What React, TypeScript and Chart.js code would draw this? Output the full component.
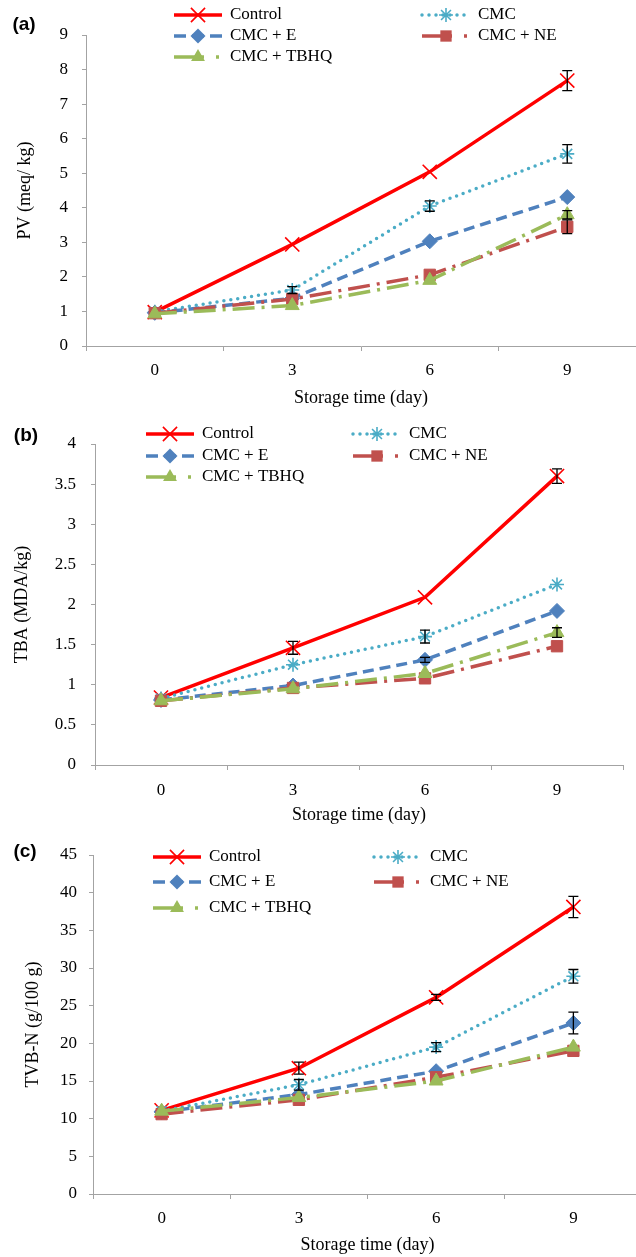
import React, { useEffect, useRef } from 'react';
import { Chart, registerables } from 'chart.js';

Chart.register(...registerables);

// ---------- data ----------
const days = ['0', '3', '6', '9'];
const seriesNames = ['Control', 'CMC', 'CMC + E', 'CMC + NE', 'CMC + TBHQ'];

// (a) PV (meq/ kg)
const pvControl = [0.98, 2.94, 5.04, 7.68];
const pvCMC = [0.99, 1.62, 4.05, 5.56];
const pvE = [0.96, 1.38, 3.03, 4.31];
const pvNE = [0.95, 1.36, 2.06, 3.45];
const pvTBHQ = [0.93, 1.17, 1.9, 3.8];
const pvControlErr = [0, 0, 0, 0.29];
const pvCMCErr = [0, 0.1, 0.15, 0.27];
const pvEErr = [0, 0, 0, 0];
const pvNEErr = [0, 0, 0, 0.2];
const pvTBHQErr = [0, 0, 0, 0.12];

// (b) TBA (MDA/kg)
const tbaControl = [0.84, 1.46, 2.09, 3.6];
const tbaCMC = [0.83, 1.25, 1.6, 2.25];
const tbaE = [0.81, 0.99, 1.31, 1.92];
const tbaNE = [0.8, 0.96, 1.08, 1.48];
const tbaTBHQ = [0.8, 0.95, 1.14, 1.65];
const tbaControlErr = [0, 0.08, 0, 0.09];
const tbaCMCErr = [0, 0, 0.08, 0];
const tbaEErr = [0, 0, 0.03, 0];
const tbaNEErr = [0, 0, 0, 0];
const tbaTBHQErr = [0, 0, 0, 0.06];

// (c) TVB-N (g/100 g)
const tvbControl = [11.1, 16.7, 26.1, 38.1];
const tvbCMC = [11.0, 14.5, 19.5, 28.9];
const tvbE = [10.9, 13.2, 16.3, 22.7];
const tvbNE = [10.6, 12.5, 15.5, 19.0];
const tvbTBHQ = [11.0, 12.8, 15.0, 19.5];
const tvbControlErr = [0, 0.8, 0.4, 1.4];
const tvbCMCErr = [0, 0.7, 0.6, 0.9];
const tvbEErr = [0, 0, 0, 1.45];
const tvbNEErr = [0, 0, 0, 0];
const tvbTBHQErr = [0, 0, 0, 0];

const pvTicks = { min: 0, max: 9, step: 1 };
const tbaTicks = { min: 0, max: 4, step: 0.5 };
const tvbTicks = { min: 0, max: 45, step: 5 };

// ---------- styles ----------
const SERIF = "'Liberation Serif', 'Times New Roman', serif";
const SANS = "'Liberation Sans', Arial, sans-serif";
const AXIS = '#a3a3a3';

type SeriesStyle = {
  color: string;
  width: number;
  dash: number[];
  legendDash: number[];
  cap: CanvasLineCap;
  point: string;
  radius: number;
  pw: number;
  filled: boolean;
};

const seriesStyles: SeriesStyle[] = [
  { color: '#ff0000', width: 3.5, dash: [], legendDash: [], cap: 'butt', point: 'crossRot', radius: 10, pw: 1.6, filled: false },
  { color: '#4bacc6', width: 3.5, dash: [0, 7], legendDash: [0, 7], cap: 'round', point: 'star', radius: 7, pw: 1.6, filled: false },
  { color: '#4f81bd', width: 3.5, dash: [11, 6], legendDash: [12, 6], cap: 'butt', point: 'rectRot', radius: 7.5, pw: 1, filled: true },
  { color: '#c0504d', width: 3.5, dash: [22, 7, 3, 7], legendDash: [30, 12, 3, 40], cap: 'butt', point: 'rect', radius: 8, pw: 1, filled: true },
  { color: '#9bbb59', width: 3.5, dash: [22, 7, 3, 7], legendDash: [30, 12, 3, 40], cap: 'butt', point: 'triangle', radius: 8, pw: 1, filled: true },
];

type PanelLayout = {
  top: number; width: number; height: number;
  left: number; areaTop: number; right: number; bottom: number;
  yTickPad: number; yTitlePad: number; xTickPad: number; xTitlePad: number;
  legendCols: number[]; legendRows: number[]; tagX: number; tagY: number;
};

type Panel = {
  tag: string;
  yTitle: string;
  values: number[][];
  errors: number[][];
  ticks: { min: number; max: number; step: number };
  layout: PanelLayout;
};

const panels: Panel[] = [
  {
    tag: '(a)',
    yTitle: 'PV (meq/ kg)',
    values: [pvControl, pvCMC, pvE, pvNE, pvTBHQ],
    errors: [pvControlErr, pvCMCErr, pvEErr, pvNEErr, pvTBHQErr],
    ticks: pvTicks,
    layout: {
      top: 0, width: 636, height: 420, left: 86, areaTop: 35, right: 636, bottom: 346,
      yTickPad: 14, yTitlePad: 14, xTickPad: 9, xTitlePad: 11,
      legendCols: [174, 422], legendRows: [15, 36, 57], tagX: 24, tagY: 25,
    },
  },
  {
    tag: '(b)',
    yTitle: 'TBA (MDA/kg)',
    values: [tbaControl, tbaCMC, tbaE, tbaNE, tbaTBHQ],
    errors: [tbaControlErr, tbaCMCErr, tbaEErr, tbaNEErr, tbaTBHQErr],
    ticks: tbaTicks,
    layout: {
      top: 420, width: 636, height: 420, left: 95, areaTop: 24, right: 623, bottom: 345,
      yTickPad: 15, yTitlePad: 11, xTickPad: 10, xTitlePad: 14,
      legendCols: [146, 353], legendRows: [14, 36, 57], tagX: 26, tagY: 16,
    },
  },
  {
    tag: '(c)',
    yTitle: 'TVB-N (g/100 g)',
    values: [tvbControl, tvbCMC, tvbE, tvbNE, tvbTBHQ],
    errors: [tvbControlErr, tvbCMCErr, tvbEErr, tvbNEErr, tvbTBHQErr],
    ticks: tvbTicks,
    layout: {
      top: 840, width: 642, height: 417, left: 93, areaTop: 15, right: 642, bottom: 354,
      yTickPad: 12, yTitlePad: 22, xTickPad: 9, xTitlePad: 1,
      legendCols: [153, 374], legendRows: [17, 42, 68], tagX: 25, tagY: 12,
    },
  },
];

// ---------- drawing helpers ----------
function drawMarker(ctx: CanvasRenderingContext2D, s: SeriesStyle, x: number, y: number) {
  const r = s.radius;
  ctx.save();
  ctx.setLineDash([]);
  ctx.strokeStyle = s.color;
  ctx.fillStyle = s.color;
  ctx.lineWidth = s.pw;
  ctx.beginPath();
  if (s.point === 'crossRot' || s.point === 'star') {
    const d = Math.SQRT1_2 * r;
    ctx.moveTo(x - d, y - d); ctx.lineTo(x + d, y + d);
    ctx.moveTo(x - d, y + d); ctx.lineTo(x + d, y - d);
    if (s.point === 'star') {
      ctx.moveTo(x, y - r); ctx.lineTo(x, y + r);
      ctx.moveTo(x - r, y); ctx.lineTo(x + r, y);
    }
    ctx.stroke();
  } else if (s.point === 'rectRot') {
    ctx.moveTo(x, y - r); ctx.lineTo(x + r, y); ctx.lineTo(x, y + r); ctx.lineTo(x - r, y);
    ctx.closePath(); ctx.fill();
  } else if (s.point === 'rect') {
    const h = Math.SQRT1_2 * r;
    ctx.rect(x - h, y - h, 2 * h, 2 * h); ctx.fill();
  } else if (s.point === 'triangle') {
    for (let k = 0; k < 3; k++) {
      const a = (k * 2 * Math.PI) / 3;
      const px = x + Math.sin(a) * r;
      const py = y - Math.cos(a) * r;
      if (k === 0) ctx.moveTo(px, py); else ctx.lineTo(px, py);
    }
    ctx.closePath(); ctx.fill();
  }
  ctx.restore();
}

function makeDecor(panel: Panel) {
  const L = panel.layout;
  return {
    id: 'panelDecor' + panel.tag,
    afterDatasetsDraw(chart: any) {
      const ctx: CanvasRenderingContext2D = chart.ctx;
      const yScale = chart.scales.y;
      ctx.save();
      ctx.strokeStyle = '#000000';
      ctx.lineWidth = 1.3;
      ctx.setLineDash([]);
      panel.values.forEach((vals, i) => {
        const meta = chart.getDatasetMeta(i);
        vals.forEach((v, j) => {
          const e = panel.errors[i][j];
          if (!e) return;
          const x = meta.data[j].x;
          const y1 = yScale.getPixelForValue(v + e);
          const y2 = yScale.getPixelForValue(v - e);
          ctx.beginPath();
          ctx.moveTo(x, y1); ctx.lineTo(x, y2);
          ctx.moveTo(x - 5, y1); ctx.lineTo(x + 5, y1);
          ctx.moveTo(x - 5, y2); ctx.lineTo(x + 5, y2);
          ctx.stroke();
        });
      });
      ctx.restore();
    },
    afterDraw(chart: any) {
      const ctx: CanvasRenderingContext2D = chart.ctx;
      const slots = [[0, 0], [1, 0], [0, 1], [1, 1], [0, 2]];
      ctx.save();
      seriesNames.forEach((name, i) => {
        const s = seriesStyles[i];
        const x0 = L.legendCols[slots[i][0]];
        const y = L.legendRows[slots[i][1]];
        ctx.save();
        ctx.strokeStyle = s.color;
        ctx.lineWidth = s.width;
        ctx.lineCap = s.cap;
        ctx.setLineDash(s.legendDash);
        ctx.beginPath();
        ctx.moveTo(x0, y);
        ctx.lineTo(x0 + 48, y);
        ctx.stroke();
        ctx.restore();
        drawMarker(ctx, s, x0 + 24, y);
        ctx.fillStyle = '#000000';
        ctx.font = `17px ${SERIF}`;
        ctx.textAlign = 'left';
        ctx.textBaseline = 'middle';
        ctx.fillText(name, x0 + 56, y);
      });
      ctx.fillStyle = '#000000';
      ctx.font = `bold 19px ${SANS}`;
      ctx.textAlign = 'center';
      ctx.textBaseline = 'middle';
      ctx.fillText(panel.tag, L.tagX, L.tagY);
      ctx.restore();
    },
  };
}

function PanelChart({ panel }: { panel: Panel }) {
  const ref = useRef<HTMLCanvasElement | null>(null);
  useEffect(() => {
    if (!ref.current) return;
    const L = panel.layout;
    const datasets = panel.values.map((vals, i) => {
      const s = seriesStyles[i];
      return {
        label: seriesNames[i],
        data: vals,
        borderColor: s.color,
        backgroundColor: s.color,
        borderWidth: s.width,
        borderDash: s.dash,
        borderCapStyle: s.cap,
        tension: 0,
        fill: false,
        pointStyle: s.point,
        pointRadius: s.radius,
        pointHoverRadius: s.radius,
        pointBorderWidth: s.pw,
        pointBorderColor: s.color,
        pointBackgroundColor: s.color,
        order: seriesNames.length - i,
      };
    });
    const chart = new Chart(ref.current, {
      type: 'line',
      data: { labels: days, datasets },
      options: {
        responsive: false,
        animation: false,
        events: [],
        layout: {
          autoPadding: false,
          padding: { top: L.areaTop, right: L.width - L.right, left: 0, bottom: 0 },
        },
        plugins: { legend: { display: false }, tooltip: { enabled: false } },
        scales: {
          x: {
            type: 'category',
            offset: true,
            grid: { display: true, drawOnChartArea: false, drawTicks: true, tickLength: 5, color: AXIS, offset: true },
            border: { display: true, color: AXIS, width: 1 },
            ticks: { color: '#000000', font: { family: SERIF, size: 17 }, padding: L.xTickPad, maxRotation: 0, autoSkip: false },
            title: {
              display: true, text: 'Storage time (day)', color: '#000000',
              font: { family: SERIF, size: 18 }, padding: { top: 0, bottom: L.xTitlePad },
            },
            afterFit: (s: any) => {
              s.height = L.height - L.bottom;
              s.paddingLeft = 0;
              s.paddingRight = 0;
            },
          },
          y: {
            min: panel.ticks.min,
            max: panel.ticks.max,
            grid: { display: true, drawOnChartArea: false, drawTicks: true, tickLength: 4, color: AXIS },
            border: { display: true, color: AXIS, width: 1 },
            ticks: {
              stepSize: panel.ticks.step,
              color: '#000000',
              font: { family: SERIF, size: 17 },
              padding: L.yTickPad,
              callback: (v: any) => String(Number(v)),
            },
            title: {
              display: true, text: panel.yTitle, color: '#000000',
              font: { family: SERIF, size: 18 }, padding: { top: L.yTitlePad, bottom: 0 },
            },
            afterFit: (s: any) => {
              s.width = L.left;
              s.paddingTop = 0;
              s.paddingBottom = 0;
            },
          },
        },
      },
      plugins: [makeDecor(panel)],
    } as any);
    return () => chart.destroy();
  }, [panel]);
  const L = panel.layout;
  return (
    <canvas
      ref={ref}
      width={L.width}
      height={L.height}
      style={{ position: 'absolute', left: 0, top: L.top, width: L.width, height: L.height }}
    />
  );
}

export default function App() {
  useEffect(() => {
    document.body.style.margin = '0';
    document.body.style.background = '#ffffff';
  }, []);
  return (
    <div style={{ position: 'relative', width: 636, height: 1257, overflow: 'hidden', background: '#ffffff' }}>
      {panels.map((p) => (
        <PanelChart key={p.tag} panel={p} />
      ))}
    </div>
  );
}
